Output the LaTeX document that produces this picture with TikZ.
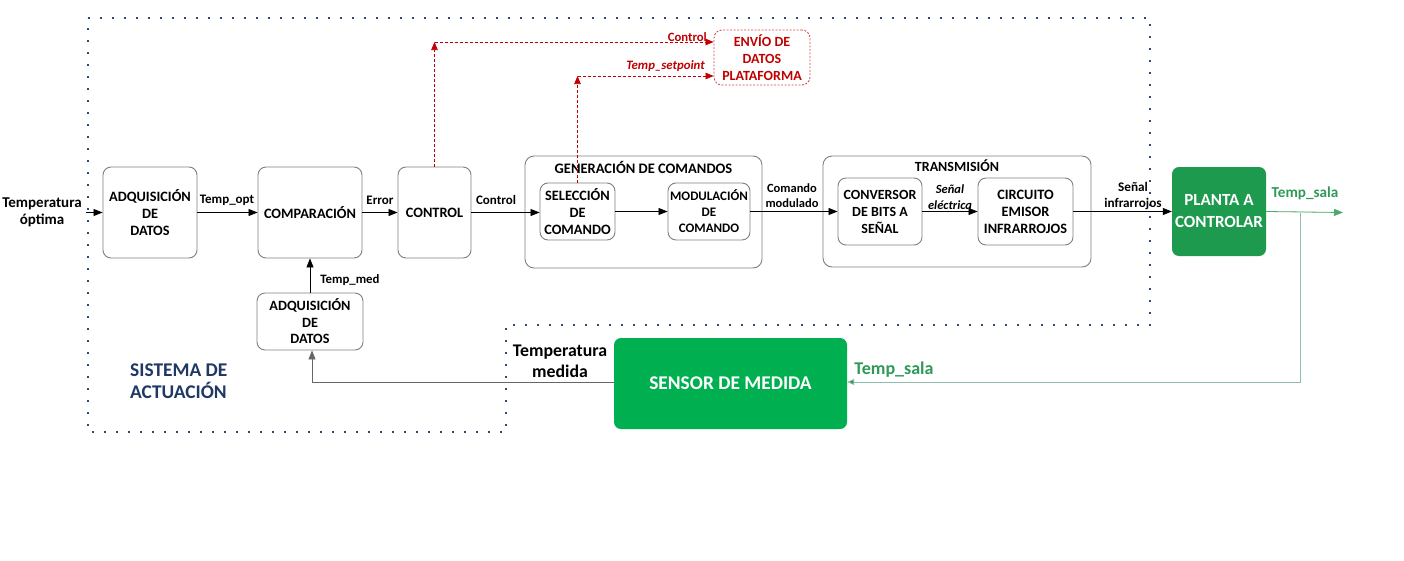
\documentclass[tikz,border=0pt]{standalone}
\usepackage{fontspec}
\setmainfont{Carlito}
\usetikzlibrary{arrows.meta}
\definecolor{boxc}{HTML}{7F7F7F}
\definecolor{redc}{HTML}{C00000}
\definecolor{navy}{HTML}{1F3864}
\definecolor{dotc}{HTML}{2E4A7D}
\definecolor{greenS}{HTML}{00B050}
\definecolor{greenP}{HTML}{1E9A4F}
\definecolor{fbline}{HTML}{8FBFAA}
\definecolor{greent}{HTML}{2E9A56}
\tikzset{
  blk/.style={draw=boxc, line width=0.9pt, rounded corners=8pt, align=center, inner sep=0pt,
    font=\fontsize{14.3}{17}\selectfont\bfseries},
  outer/.style={draw=boxc, line width=0.9pt, rounded corners=9pt, inner sep=0pt},
  gbox/.style={fill=#1, rounded corners=7pt, align=center, inner sep=0pt, text=white,
    font=\fontsize{19.4}{23}\selectfont\bfseries},
  arr/.style={line width=0.8pt, -{Triangle[length=9pt,width=7pt]}},
  lbl/.style={font=\fontsize{12.5}{15}\selectfont\bfseries, align=center, inner sep=0pt},
  rdash/.style={draw=redc, line width=0.7pt, dash pattern=on 3pt off 2pt, -{Triangle[length=8pt,width=6.5pt]}},
  dotb/.style={draw=dotc, line width=2pt, dash pattern=on 2pt off 10pt},
}
\begin{document}
\begin{tikzpicture}[x=1pt,y=-1pt]
\useasboundingbox (0,0) rectangle (1404,560);
% system boundary (dotted)
\draw[dotb] (88,18) -- (1150,18) -- (1150,325) -- (506,325) -- (506,432) -- (88,432) -- cycle;

% outer groups
\node[outer, minimum width=237pt, minimum height=112pt] (GEN) at (643.5,212) {};
\node[font=\fontsize{14.5}{16}\selectfont\bfseries, inner sep=0pt] (GENt) at (643.5,167) {GENERACIÓN DE COMANDOS};
\node[outer, minimum width=268pt, minimum height=111pt] (TRA) at (957,211.5) {};
\node[font=\fontsize{14}{16}\selectfont\bfseries, inner sep=0pt] (TRAt) at (957,166) {TRANSMISIÓN};

% blocks
\node[blk, minimum width=94pt, minimum height=91pt] (ADQ1) at (150,212.5) {ADQUISICIÓN\\DE\\DATOS};
\node[blk, minimum width=104pt, minimum height=91pt] (COMP) at (310,212.5) {COMPARACIÓN};
\node[blk, minimum width=73pt, minimum height=91pt] (CTRL) at (434.5,212.5) {CONTROL};
\node[blk, minimum width=75pt, minimum height=57pt] (SEL) at (577.5,211.5) {SELECCIÓN\\DE\\COMANDO};
\node[blk, minimum width=82pt, minimum height=57pt, font=\fontsize{13}{16}\selectfont\bfseries] (MOD) at (709,211.5) {MODULACIÓN\\DE\\COMANDO};
\node[blk, minimum width=84pt, minimum height=67pt, font=\fontsize{14}{17}\selectfont\bfseries] (CONV) at (880,211.5) {CONVERSOR\\DE BITS A\\SEÑAL};
\node[blk, minimum width=95pt, minimum height=67pt] (CIRC) at (1025.5,211.5) {CIRCUITO\\EMISOR\\INFRARROJOS};
\node[blk, minimum width=106pt, minimum height=57pt, font=\fontsize{14.2}{16.5}\selectfont\bfseries] (ADQ2) at (310,321.5) {ADQUISICIÓN\\DE\\DATOS};
\node[gbox=greenP, minimum width=94pt, minimum height=89pt, font=\fontsize{17}{22}\selectfont\bfseries] (PLA) at (1219,211.5) {PLANTA A\\CONTROLAR};
\node[gbox=greenS, minimum width=233pt, minimum height=91pt] (SEN) at (730.5,383.5) {SENSOR DE MEDIDA};
\node[blk, draw=redc!70, dash pattern=on 2pt off 1.5pt, text=redc, minimum width=96pt, minimum height=55pt,
  font=\fontsize{14}{17}\selectfont\bfseries] (ENV) at (762,57.5) {ENVÍO DE\\DATOS\\PLATAFORMA};

% coordinates
\coordinate (in) at (86,212.5);
\coordinate (out) at (1343,212.5);
\coordinate (split) at (1300,212.5);
\coordinate (fbc) at (1300,382);
\coordinate (sc) at (312,382);
\coordinate (c1) at (434.5,42);
\coordinate (c2) at (577.5,76);

% main chain
\draw[arr] (in) -- (ADQ1.west);
\draw[arr] (ADQ1.east) -- (COMP.west);
\draw[arr] (COMP.east) -- (CTRL.west);
\draw[arr] (CTRL.east) -- (CTRL.east -| SEL.west);
\draw[arr] (SEL.east) -- (MOD.west);
\draw[arr] (MOD.east) -- (CONV.west);
\draw[arr] (CONV.east) -- (CIRC.west);
\draw[arr] (CIRC.east) -- (CIRC.east -| PLA.west);
\draw[arr, draw=greent!85, fill=greent] (PLA.east) -- (out);
\draw[line width=0.8pt, draw=fbline, -{Triangle[length=7pt,width=6pt,fill=greent]}] (split) -- (fbc) -- (SEN.east |- fbc);
\draw[arr, draw=gray!80!black] (SEN.west |- sc) -- (sc) -- (sc |- ADQ2.south);
\draw[arr] (ADQ2.north) -- (COMP.south);

% red dashed
\draw[rdash] (CTRL.north) -- (c1);
\draw[rdash] (c1) -- (c1 -| ENV.west);
\draw[rdash] (SEL.north) -- (c2);
\draw[rdash] (c2) -- (c2 -| ENV.west);

% labels
\node[lbl, font=\fontsize{15}{17}\selectfont\bfseries] (l1) at (42,212) {Temperatura\\óptima};
\node[lbl, font=\fontsize{13}{15}\selectfont\bfseries] (l2) at (227,200) {Temp\_opt};
\node[lbl, font=\fontsize{13}{15}\selectfont\bfseries] (l3) at (380,200) {Error};
\node[lbl, font=\fontsize{13}{15}\selectfont\bfseries] (l4) at (496,200) {Control};
\node[lbl] (l5) at (792,196) {Comando\\modulado};
\node[lbl, font=\fontsize{12.5}{16}\selectfont\bfseries\itshape] (l6) at (950,197) {Señal\\eléctrica};
\node[lbl, font=\fontsize{13.2}{16}\selectfont\bfseries] (l7) at (1133,196) {Señal\\infrarrojos};
\node[lbl, text=greent, font=\fontsize{15.2}{18}\selectfont\bfseries] (l8) at (1305,193) {Temp\_sala};
\node[lbl, text=greent, font=\fontsize{18}{20}\selectfont\bfseries] (l9) at (894,370) {Temp\_sala};
\node[lbl, font=\fontsize{12.8}{14}\selectfont\bfseries] (l10) at (350,280) {Temp\_med};
\node[lbl, font=\fontsize{17.8}{21}\selectfont\bfseries] (l11) at (560,361.5) {Temperatura\\medida};
\node[lbl, text=navy, font=\fontsize{19.4}{22}\selectfont\bfseries, align=left, anchor=west] (l12) at (130,381) {SISTEMA DE\\ACTUACIÓN};
\node[lbl, text=redc, anchor=east, font=\fontsize{12.7}{15}\selectfont\bfseries] (l13) at (707,37) {Control};
\node[lbl, text=redc, anchor=east, font=\fontsize{12.8}{15}\selectfont\bfseries\itshape] (l14) at (705,66) {Temp\_setpoint};
\end{tikzpicture}
\end{document}
